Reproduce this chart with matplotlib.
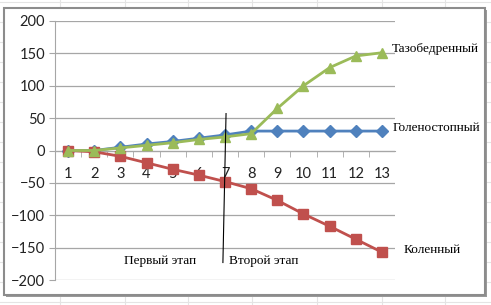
import matplotlib
matplotlib.use("Agg")
import matplotlib.pyplot as plt
from matplotlib.patches import Rectangle
from matplotlib.lines import Line2D

# data
stages = list(range(1, 14))
ankle = [0, 0, 5, 10, 14, 19, 24, 30, 30, 30, 30, 30, 30]          # Голеностопный
knee = [0, -2, -9, -19, -29, -38, -48, -59, -77, -98, -117, -137, -157]  # Коленный
hip = [0, 0, 4, 8, 12, 17, 21, 26, 65, 100, 128, 146, 151]          # Тазобедренный
y_ticks = [-200, -150, -100, -50, 0, 50, 100, 150, 200]

W, H = 491, 305
fig = plt.figure(figsize=(W / 100, H / 100), dpi=100)

# spreadsheet grid behind the chart
for gx in [60, 125, 188, 252, 317, 382, 445]:
    fig.add_artist(Line2D([gx / W, gx / W], [0, 1], color="#e4e4e4", lw=0.8, zorder=0))
for gy in range(302, 0, -20):
    fig.add_artist(Line2D([0, 1], [1 - gy / H, 1 - gy / H], color="#e4e4e4", lw=0.8, zorder=0))

# chart area with shadow
fig.add_artist(Rectangle((6 / W, 1 - 297 / H), 481 / W, 287 / H, facecolor="#9a9a9a",
                         edgecolor="none", zorder=1))
fig.add_artist(Rectangle((4 / W, 1 - 295 / H), 481 / W, 287 / H, facecolor="white",
                         edgecolor="#8c8c8c", lw=1.5, zorder=1))

ax = fig.add_axes([55 / W, 1 - 280 / H, 340 / W, 259 / H], zorder=2)
ax.set_facecolor("none")

ax.plot(stages, ankle, color="#4f81bd", lw=2, marker="D", ms=6, zorder=3)
ax.plot(stages, knee, color="#c0504d", lw=2, marker="s", ms=6.5, zorder=3)
ax.plot(stages, hip, color="#9bbb59", lw=2, marker="^", ms=7, zorder=4)

ax.set_xlim(0.5, 13.5)
ax.set_ylim(-200, 200)
ax.set_yticks(y_ticks)
ax.grid(axis="y", color="#a6a6a6", lw=0.9)
ax.set_axisbelow(True)

for s in ["top", "right"]:
    ax.spines[s].set_visible(False)
ax.spines["left"].set_color("#a6a6a6")
ax.spines["bottom"].set_position(("data", 0))
ax.spines["bottom"].set_color("#a6a6a6")

ax.set_xticks(stages)
ax.set_xticks([i + 0.5 for i in range(1, 13)], minor=True)
ax.tick_params(axis="x", which="major", length=0, pad=12, labelsize=10.5)
ax.tick_params(axis="x", which="minor", length=4, color="#a6a6a6", direction="out")
ax.tick_params(axis="y", length=4, color="#a6a6a6", labelsize=10.5, pad=3)
for lab in ax.get_xticklabels() + ax.get_yticklabels():
    lab.set_fontfamily("Lato")
    lab.set_color("#222222")

# stage separator and annotations
ax.plot([7.04, 6.92], [57, -173], color="black", lw=0.8, zorder=5, clip_on=False)
serif = dict(fontfamily="Liberation Serif", fontsize=9.5, color="black", va="center")
ax.text(3.14, -170, "Первый этап", **serif)
ax.text(7.15, -170, "Второй этап", **serif)
ax.text(13.38, 156, "Тазобедренный", clip_on=False, **serif)
ax.text(13.42, 34, "Голеностопный", clip_on=False, **serif)
ax.text(13.84, -153, "Коленный", clip_on=False, **serif)

fig.savefig("out.png", dpi=100)
